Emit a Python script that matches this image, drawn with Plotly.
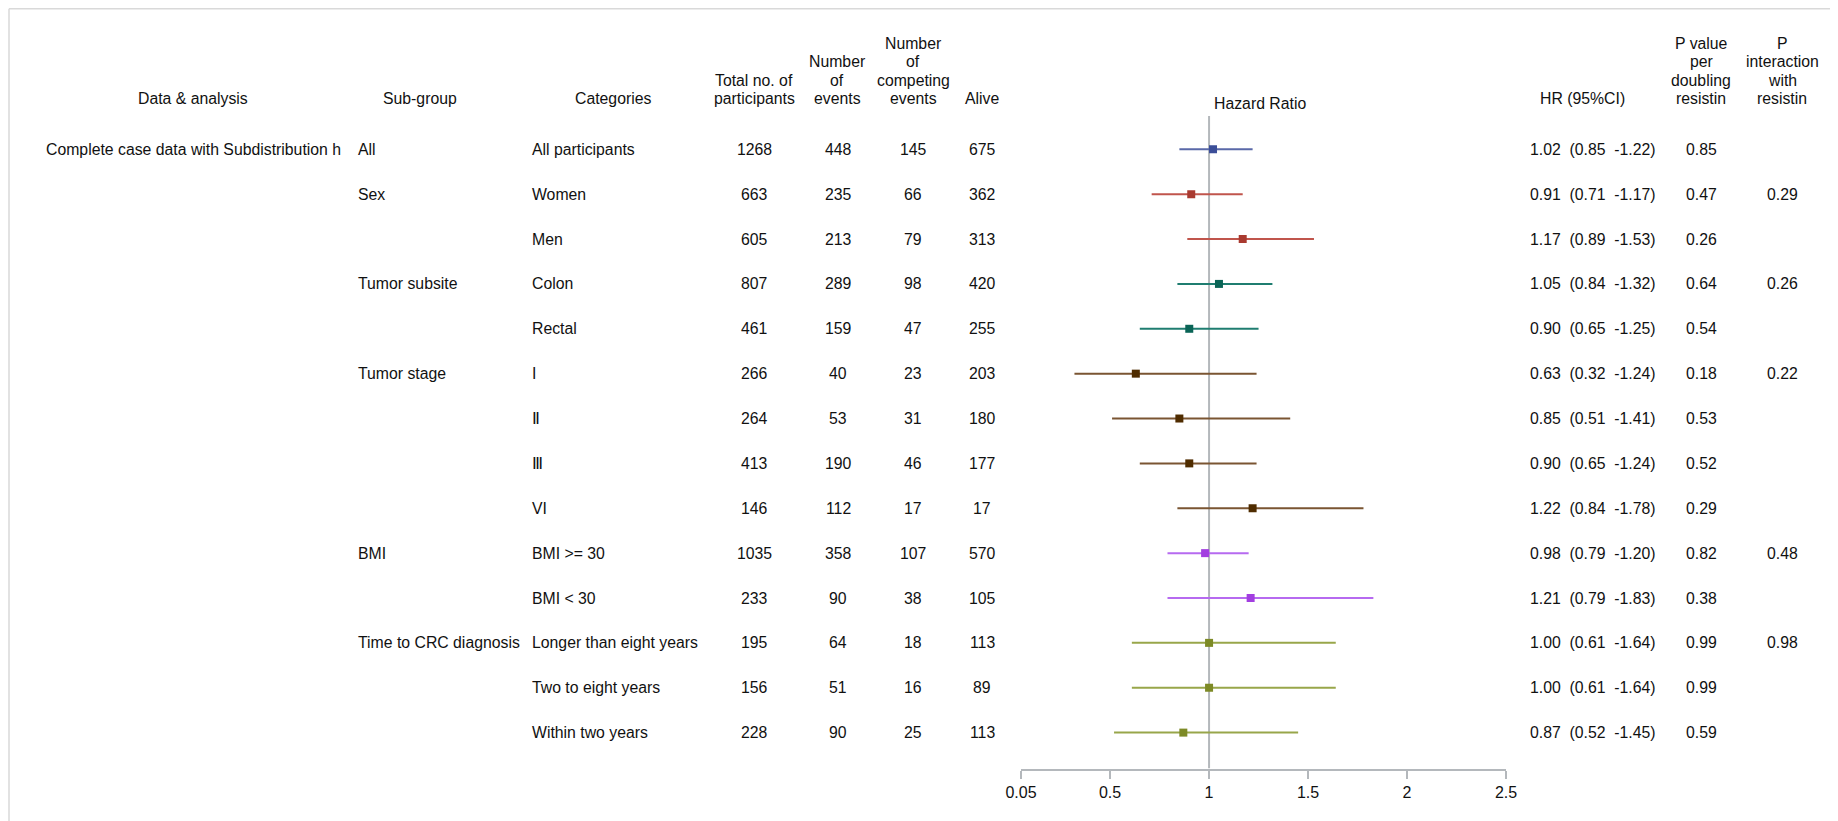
import plotly.graph_objects as go

W, H = 1838, 821

# ---------------- data ----------------
data_analysis = ["Complete case data with Subdistribution h"] + [""] * 13
subgroups = ["All", "Sex", "", "Tumor subsite", "", "Tumor stage", "", "", "",
             "BMI", "", "Time to CRC diagnosis", "", ""]
categories = ["All participants", "Women", "Men", "Colon", "Rectal", "I", "Ⅱ", "Ⅲ", "VI",
              "BMI >= 30", "BMI < 30", "Longer than eight years", "Two to eight years",
              "Within two years"]
total = [1268, 663, 605, 807, 461, 266, 264, 413, 146, 1035, 233, 195, 156, 228]
events = [448, 235, 213, 289, 159, 40, 53, 190, 112, 358, 90, 64, 51, 90]
competing = [145, 66, 79, 98, 47, 23, 31, 46, 17, 107, 38, 18, 16, 25]
alive = [675, 362, 313, 420, 255, 203, 180, 177, 17, 570, 105, 113, 89, 113]
hr = [1.02, 0.91, 1.17, 1.05, 0.90, 0.63, 0.85, 0.90, 1.22, 0.98, 1.21, 1.00, 1.00, 0.87]
ci_low = [0.85, 0.71, 0.89, 0.84, 0.65, 0.32, 0.51, 0.65, 0.84, 0.79, 0.79, 0.61, 0.61, 0.52]
ci_high = [1.22, 1.17, 1.53, 1.32, 1.25, 1.24, 1.41, 1.24, 1.78, 1.20, 1.83, 1.64, 1.64, 1.45]
p_doubling = ["0.85", "0.47", "0.26", "0.64", "0.54", "0.18", "0.53", "0.52", "0.29",
              "0.82", "0.38", "0.99", "0.99", "0.59"]
p_interaction = ["", "0.29", "", "0.26", "", "0.22", "", "", "", "0.48", "", "0.98", "", ""]

# group of each row -> colour
row_group = [0, 1, 1, 2, 2, 3, 3, 3, 3, 4, 4, 5, 5, 5]
group_marker = ["#3b4e98", "#a93a30", "#0a6456", "#4f2c00", "#a23ee0", "#7d8a26"]
group_line = ["#5a69a8", "#c0554c", "#1f7d70", "#7a5532", "#b66af0", "#98a64a"]

x_ticks = [0.05, 0.5, 1, 1.5, 2, 2.5]
x_range = [0.05, 2.5]

# ---------------- layout geometry ----------------
# page offset of the plot inside the browser (body margin)
OX, OY = 8, 8
row0_px, row_step = 149.3 - OY, 44.87
axis_px = 768.6 - OY
y_top = -row0_px / row_step
y_bot = (axis_px - row0_px) / row_step


def px_to_row(p):
    return (p - OY - row0_px) / row_step


def px_x(p):
    return (p - OX) / W


FONT = "Liberation Sans, Arial, sans-serif"
FS = 15.8
TXT = "#111111"

fig = go.Figure()

n = len(hr)
for g in range(6):
    idx = [i for i in range(n) if row_group[i] == g]
    fig.add_trace(go.Scatter(
        x=[hr[i] for i in idx],
        y=[i for i in idx],
        mode="markers",
        marker=dict(symbol="square", size=8, color=group_marker[g],
                    line=dict(width=0)),
        error_x=dict(type="data", symmetric=False,
                     array=[ci_high[i] - hr[i] for i in idx],
                     arrayminus=[hr[i] - ci_low[i] for i in idx],
                     color=group_line[g], thickness=2, width=0),
        showlegend=False,
        hoverinfo="skip",
    ))

annotations = []


def add_text(text, xpx, ypos, anchor="center", yref="y", size=FS):
    annotations.append(dict(
        text=text, x=px_x(xpx), xref="paper", y=ypos, yref=yref,
        xanchor=anchor, yanchor="middle", showarrow=False,
        font=dict(family=FONT, size=size, color=TXT)))


# header lines (bottom line at ~98.5px, spacing ~18.4px)
hdr_px = [98.5, 80.1, 61.7, 43.3]
headers = [
    (193, ["Data & analysis"]),
    (420, ["Sub-group"]),
    (613, ["Categories"]),
    (754, ["Total no. of", "participants"]),
    (837, ["Number", "of", "events"]),
    (913, ["Number", "of", "competing", "events"]),
    (982, ["Alive"]),
    (1582, ["HR (95%CI)"]),
    (1701, ["P value", "per", "doubling", "resistin"]),
    (1782, ["P", "interaction", "with", "resistin"]),
]
for xpx, lines in headers:
    for k, line in enumerate(reversed(lines)):
        add_text(line, xpx, px_to_row(hdr_px[k]))
add_text("Hazard Ratio", 1260, px_to_row(103.5))

NB = "\u00a0"
for i in range(n):
    if data_analysis[i]:
        add_text(data_analysis[i], 44, i, anchor="left")
    if subgroups[i]:
        add_text(subgroups[i], 356, i, anchor="left")
    add_text(categories[i], 530, i, anchor="left")
    add_text(str(total[i]), 754, i)
    add_text(str(events[i]), 838, i)
    add_text(str(competing[i]), 913, i)
    add_text(str(alive[i]), 982, i)
    add_text(f"{hr[i]:.2f}{NB} ({ci_low[i]:.2f}{NB} -{ci_high[i]:.2f})", 1593, i)
    add_text(p_doubling[i], 1701, i)
    if p_interaction[i]:
        add_text(p_interaction[i], 1782, i)

shapes = [
    # reference line at HR = 1
    dict(type="line", xref="x", yref="y", x0=1, x1=1, y0=px_to_row(116), y1=y_bot,
         line=dict(color="#b4b8bc", width=2), layer="below"),
    # page border (top and left)
    dict(type="line", xref="paper", yref="paper", x0=px_x(9), x1=1, y0=1 - 0.75 / H, y1=1 - 0.75 / H,
         line=dict(color="#d9d9d9", width=1.5)),
    dict(type="line", xref="paper", yref="paper", x0=px_x(9), x1=px_x(9), y0=0, y1=1 - 0.75 / H,
         line=dict(color="#d9d9d9", width=1.5)),
]

fig.update_layout(
    width=W, height=H, autosize=False,
    margin=dict(l=0, r=0, t=0, b=0, pad=0, autoexpand=False),
    paper_bgcolor="white", plot_bgcolor="white",
    xaxis=dict(domain=[px_x(1021), px_x(1506)], range=x_range, tickvals=x_ticks,
               ticktext=[str(v) for v in x_ticks], automargin=False,
               showgrid=False, zeroline=False, showline=True,
               linecolor="#b4b8bc", linewidth=2,
               ticks="outside", ticklen=8, tickwidth=2, tickcolor="#b4b8bc",
               tickfont=dict(family=FONT, size=16, color=TXT)),
    yaxis=dict(domain=[(H - axis_px) / H, 1], range=[y_bot, y_top], automargin=False,
               visible=False, showgrid=False, zeroline=False),
    annotations=annotations,
    shapes=shapes,
    font=dict(family=FONT),
)

fig.write_html("out.html")
